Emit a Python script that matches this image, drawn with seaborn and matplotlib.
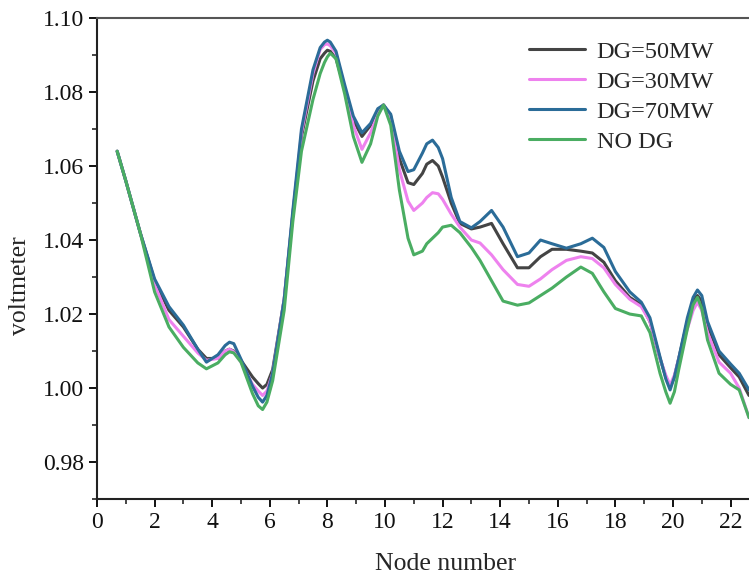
import pandas as pd
import matplotlib
matplotlib.use("Agg")
import matplotlib.pyplot as plt
import seaborn as sns

sns.set_style("ticks")
plt.rcParams["font.family"] = ["Liberation Serif", "DejaVu Serif"]

# node positions
node = [0.7, 1.0, 1.5, 2.0, 2.5, 3.0, 3.5, 3.8, 4.2, 4.45, 4.6, 4.75, 5.0,
        5.4, 5.6, 5.75, 5.9, 6.1, 6.5, 6.8, 7.1, 7.5, 7.75, 7.9, 8.0, 8.1,
        8.3, 8.6, 8.9, 9.2, 9.5, 9.75, 9.95, 10.2, 10.5, 10.8, 11.0, 11.3,
        11.45, 11.65, 11.85, 12.0, 12.3, 12.6, 13.0, 13.3, 13.7, 14.1, 14.6,
        15.0, 15.4, 15.8, 16.3, 16.8, 17.2, 17.6, 18.0, 18.5, 18.9, 19.2,
        19.55, 19.75, 19.9, 20.05, 20.2, 20.5, 20.7, 20.85, 21.0, 21.2, 21.6,
        22.0, 22.3, 22.64]

dg50 = [1.064, 1.056, 1.042, 1.029, 1.021, 1.0165, 1.0105, 1.008, 1.008,
        1.010, 1.0105, 1.010, 1.0075, 1.003, 1.0012, 1.000, 1.001, 1.005,
        1.024, 1.047, 1.068, 1.083, 1.089, 1.0905, 1.0913, 1.091, 1.089,
        1.081, 1.0725, 1.068, 1.071, 1.075, 1.0765, 1.0735, 1.062, 1.0555,
        1.055, 1.058, 1.0605, 1.0615, 1.060, 1.057, 1.050, 1.0445, 1.043,
        1.0435, 1.0445, 1.039, 1.0325, 1.0325, 1.0355, 1.0375, 1.0375, 1.037,
        1.0365, 1.034, 1.029, 1.0245, 1.0225, 1.018, 1.008, 1.003, 1.0003,
        1.003, 1.008, 1.018, 1.0235, 1.025, 1.0235, 1.017, 1.009, 1.0055,
        1.003, 0.998]

dg30 = [1.064, 1.056, 1.042, 1.028, 1.0185, 1.014, 1.0095, 1.0075, 1.008,
        1.010, 1.0105, 1.0098, 1.007, 1.001, 0.9992, 0.998, 0.9992, 1.004,
        1.024, 1.047, 1.069, 1.085, 1.0915, 1.0928, 1.093, 1.0925, 1.0905,
        1.081, 1.071, 1.0645, 1.069, 1.074, 1.0765, 1.073, 1.059, 1.0505,
        1.048, 1.050, 1.0515, 1.0528, 1.0525, 1.051, 1.047, 1.0435, 1.040,
        1.0392, 1.036, 1.032, 1.028, 1.0275, 1.0295, 1.032, 1.0345, 1.0355,
        1.035, 1.0325, 1.028, 1.024, 1.022, 1.018, 1.008, 1.0035, 1.0008,
        1.0035, 1.008, 1.016, 1.021, 1.0232, 1.021, 1.015, 1.007, 1.004,
        1.000, 0.992]

dg70 = [1.064, 1.056, 1.042, 1.0295, 1.022, 1.017, 1.0105, 1.007, 1.009,
        1.0115, 1.0124, 1.012, 1.0078, 1.0005, 0.9975, 0.9962, 0.998, 1.004,
        1.024, 1.048, 1.070, 1.086, 1.092, 1.0935, 1.094, 1.0935, 1.091,
        1.082, 1.0735, 1.069, 1.0715, 1.0755, 1.0765, 1.074, 1.064, 1.0585,
        1.059, 1.0635, 1.066, 1.067, 1.065, 1.062, 1.0515, 1.045, 1.0433,
        1.045, 1.048, 1.0435, 1.0355, 1.0365, 1.040, 1.039, 1.0378, 1.039,
        1.0405, 1.038, 1.0315, 1.026, 1.0232, 1.019, 1.0084, 1.0025, 0.9995,
        1.003, 1.008, 1.019, 1.0245, 1.0265, 1.025, 1.018, 1.010, 1.0065,
        1.004, 0.9995]

no_dg = [1.064, 1.056, 1.042, 1.026, 1.0165, 1.011, 1.0068, 1.0052, 1.0068,
         1.009, 1.0098, 1.0095, 1.007, 0.9985, 0.9952, 0.9942, 0.9962, 1.002,
         1.021, 1.045, 1.064, 1.078, 1.085, 1.088, 1.0895, 1.0905, 1.089,
         1.0795, 1.068, 1.061, 1.066, 1.0735, 1.0765, 1.071, 1.0535, 1.0405,
         1.036, 1.037, 1.039, 1.0405, 1.042, 1.0435, 1.044, 1.042, 1.038,
         1.0345, 1.029, 1.0235, 1.0224, 1.023, 1.025, 1.027, 1.030, 1.0327,
         1.031, 1.026, 1.0215, 1.020, 1.0195, 1.015, 1.004, 0.999, 0.9959,
         0.999, 1.005, 1.016, 1.0225, 1.0245, 1.0215, 1.013, 1.004, 1.001,
         0.9995, 0.992]

labels = ["DG=50MW", "DG=30MW", "DG=70MW", "NO DG"]
colors = ["#444444", "#ee82ee", "#2b6c98", "#4aad62"]

df = pd.concat([
    pd.DataFrame({"node": node, "v": vals, "case": lab})
    for lab, vals in zip(labels, [dg50, dg30, dg70, no_dg])
])

fig = plt.figure(figsize=(7.49, 5.81), dpi=100)
ax = fig.add_axes([0.1295, 0.141, 0.8705, 0.828])

sns.lineplot(data=df, x="node", y="v", hue="case", hue_order=labels,
             palette=colors, sort=False, estimator=None, linewidth=2.2, ax=ax)

ax.set_xlim(0, 22.64)
ax.set_ylim(0.97, 1.10)
ax.set_xticks(range(0, 23, 2))
ax.set_xticks(range(0, 23), minor=True)
ax.set_yticks([0.98, 1.00, 1.02, 1.04, 1.06, 1.08, 1.10])
ax.set_yticks([0.97 + 0.01 * i for i in range(14)], minor=True)
ax.set_yticklabels(["0.98", "1.00", "1.02", "1.04", "1.06", "1.08", "1.10"])

ax.tick_params(which="major", direction="out", length=6, width=1.4,
               labelsize=17, colors="#111111")
ax.tick_params(which="minor", direction="out", length=3.5, width=1.2)
for s in ["left", "bottom", "top"]:
    ax.spines[s].set_linewidth(1.5)
    ax.spines[s].set_color("#222222")
ax.spines["top"].set_color("#555555")
ax.spines["right"].set_visible(False)

ax.set_xlabel("Node number", fontsize=18.5)
ax.set_ylabel("voltmeter", fontsize=18.5)
ax.xaxis.set_label_coords(0.535, -0.112)
ax.yaxis.set_label_coords(-0.101, 0.443)

ax.legend(loc="upper left", bbox_to_anchor=(0.662, 0.953), frameon=False,
          fontsize=17.5, handlelength=2.3, handletextpad=0.5,
          labelspacing=0.33, borderpad=0, borderaxespad=0)

plt.savefig("out.png", dpi=100)
